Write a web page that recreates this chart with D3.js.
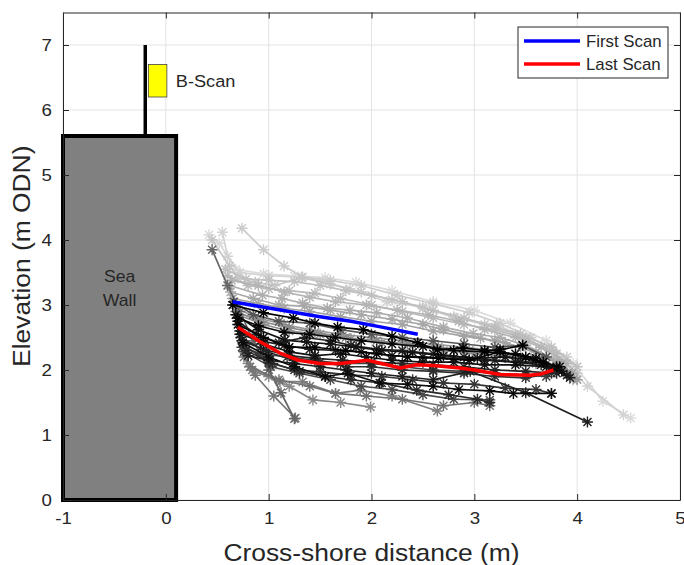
<!DOCTYPE html>
<html>
<head>
<meta charset="utf-8">
<script src="https://cdn.jsdelivr.net/npm/d3@7"></script>
<style>
  html, body { margin: 0; padding: 0; background: #fff; }
  svg { display: block; }
  text { font-family: "Liberation Sans", Arial, Helvetica, sans-serif; fill: #262626; }
</style>
</head>
<body>
<svg id="chart" width="684" height="565"></svg>
<script>
// ---------------- DATA ----------------
const xTicks = [-1, 0, 1, 2, 3, 4, 5];
const yTicks = [0, 1, 2, 3, 4, 5, 6, 7];
const xLabel = "Cross-shore distance (m)";
const yLabel = "Elevation (m ODN)";
const legendLabels = ["First Scan", "Last Scan"];

// Sea wall extent and B-Scan instrument
const seaWall = { x0: -1, x1: 0.1, top: 5.6, label: ["Sea", "Wall"] };
const bScanPole = { x: -0.2, y0: 5.6, y1: 7.0 };
const bScanBox = { x0: -0.17, x1: 0.01, y0: 6.2, y1: 6.7, label: "B-Scan" };

// Intermediate scans (x, elevation), ordered light (early) to dark (late)
const scans = [
  [[0.42,4.08],[0.52,3.95],[0.68,3.55],[0.95,3.48],[1.25,3.45],[1.55,3.42],[1.85,3.35],[2.2,3.22],[2.6,3.05],[3.0,2.92],[3.35,2.72],[3.7,2.45],[3.96,2.1],[4.25,1.52],[4.52,1.26]],
  [[0.55,4.12],[0.6,3.75],[0.72,3.5],[1.0,3.45],[1.32,3.43],[1.53,3.36],[1.79,3.25],[2.15,3.05],[2.5,2.98],[2.81,2.8],[3.22,2.69],[3.5,2.5],[3.85,2.15],[4.1,1.75],[4.45,1.31]],
  [[0.74,4.18],[0.95,3.85],[1.15,3.6],[1.33,3.43],[1.6,3.38],[1.9,3.3],[2.25,3.15],[2.6,3.02],[2.95,2.88],[3.25,2.72],[3.55,2.5],[3.9,2.2]],
  [[0.45,4.0],[0.62,3.6],[0.7,3.42],[0.87,3.35],[1.06,3.3],[1.32,3.42],[1.6,3.32],[1.9,3.2],[2.2,3.08],[2.5,2.95],[2.8,2.82],[3.1,2.7],[3.4,2.55],[3.75,2.3],[4.0,1.95]],
  [[0.58,3.55],[0.78,3.4],[1.0,3.38],[1.25,3.36],[1.5,3.3],[1.75,3.22],[2.0,3.15],[2.3,3.05],[2.6,2.92],[2.9,2.8],[3.2,2.66],[3.45,2.55],[3.75,2.35],[4.0,2.05]],
  [[0.6,3.45],[0.8,3.3],[1.0,3.25],[1.2,3.22],[1.45,3.18],[1.7,3.1],[2.0,3.0],[2.3,2.9],[2.6,2.8],[2.9,2.7],[3.2,2.62],[3.5,2.48],[3.8,2.25]],
  [[0.64,3.38],[0.9,3.3],[1.15,3.2],[1.4,3.12],[1.65,3.05],[1.95,3.0],[2.25,2.92],[2.55,2.85],[2.85,2.75],[3.1,2.62],[3.4,2.5],[3.65,2.35],[3.9,2.1]],
  [[0.62,3.3],[0.94,3.15],[1.13,3.1],[1.33,3.03],[1.57,2.95],[1.79,2.92],[2.05,2.88],[2.35,2.8],[2.7,2.66],[2.99,2.56],[3.25,2.5],[3.5,2.38],[3.8,2.15],[3.96,1.85]],
  [[0.63,3.2],[0.85,3.1],[1.1,3.0],[1.35,2.98],[1.6,2.92],[1.9,2.85],[2.2,2.78],[2.5,2.7],[2.7,2.62],[3.06,2.49],[3.3,2.42],[3.6,2.28],[3.85,2.1]],
  [[0.65,3.1],[0.9,3.02],[1.15,2.95],[1.4,2.9],[1.7,2.82],[2.0,2.75],[2.3,2.7],[2.6,2.6],[2.9,2.52],[3.2,2.45],[3.45,2.35],[3.7,2.2],[3.95,1.95]],
  [[0.68,2.95],[0.9,2.8],[1.15,2.7],[1.4,2.62],[1.7,2.55],[2.0,2.5],[2.3,2.45],[2.6,2.4],[2.9,2.35],[3.2,2.3],[3.5,2.2],[3.8,2.05],[4.0,1.85]],
  [[0.7,2.85],[0.95,2.7],[1.2,2.6],[1.5,2.55],[1.8,2.48],[2.1,2.42],[2.4,2.38],[2.7,2.3],[3.0,2.25],[3.3,2.2],[3.6,2.1],[3.9,1.95]],
  [[0.68,2.9],[0.92,2.75],[1.2,2.65],[1.45,2.58],[1.75,2.5],[2.05,2.45],[2.35,2.4],[2.65,2.35],[2.95,2.3],[3.25,2.25],[3.55,2.18],[3.85,2.0]],
  [[0.8,2.1],[1.0,1.9],[1.2,1.75],[1.43,1.54],[1.7,1.5],[1.99,1.43]],
  [[0.84,2.0],[1.11,1.82],[1.33,1.82],[1.65,1.64],[1.89,1.69],[2.2,1.6],[2.64,1.37]],
  [[0.82,2.05],[1.1,1.85],[1.4,1.75],[1.65,1.64],[1.95,1.6],[2.3,1.55],[2.7,1.45],[3.0,1.5],[3.15,1.45]],
  [[0.76,2.2],[0.87,1.92],[1.05,1.6],[1.26,1.26]],
  [[0.45,3.85],[0.6,3.3],[0.72,2.9],[0.85,2.45],[1.0,2.0],[1.12,1.65],[1.25,1.25]],
  [[0.66,3.05],[0.85,2.85],[1.1,2.75],[1.4,2.72],[1.7,2.62],[2.0,2.55],[2.3,2.5],[2.6,2.45],[2.9,2.4],[3.2,2.35],[3.47,2.38],[3.7,2.2]],
  [[0.76,2.28],[1.02,2.05],[1.3,1.95],[1.6,1.85],[1.9,1.75],[2.2,1.7],[2.5,1.62],[2.8,1.55],[3.15,1.54]],
  [[0.74,2.35],[0.92,2.25],[1.18,2.2],[1.45,2.15],[1.7,2.1],[2.0,2.1],[2.3,2.05],[2.6,2.0],[2.9,1.98],[3.2,1.95],[3.5,1.92],[3.7,1.9]],
  [[0.76,2.38],[1.0,2.12],[1.25,2.0],[1.5,1.97],[1.8,1.92],[2.1,1.9],[2.4,1.85],[2.7,1.8],[3.0,1.78],[3.3,1.72],[3.6,1.7],[3.75,1.64]],
  [[0.73,2.5],[0.98,2.28],[1.25,2.15],[1.5,2.12],[1.77,2.05],[2.0,2.05],[2.3,2.0],[2.6,1.98],[2.9,1.95],[3.2,1.9],[3.5,1.88],[3.75,1.95]],
  [[0.78,2.3],[1.04,2.1],[1.3,1.98],[1.55,1.9],[1.8,1.85],[2.1,1.8],[2.44,1.69],[2.75,1.62],[3.03,1.55],[3.15,1.5]],
  [[0.74,2.45],[0.95,2.32],[1.2,2.22],[1.45,2.18],[1.72,2.15],[2.0,2.12],[2.3,2.1],[2.6,2.08],[2.9,2.05],[3.2,2.0],[3.5,1.98],[3.8,1.95]],
  [[0.7,2.75],[0.88,2.55],[1.1,2.42],[1.35,2.5],[1.6,2.45],[1.8,2.38],[2.05,2.32],[2.3,2.3],[2.6,2.25],[2.9,2.2],[3.2,2.15],[3.45,2.12],[3.67,2.12],[3.93,1.88]],
  [[0.8,2.22],[1.0,2.15],[1.25,2.1],[1.5,2.05],[1.75,2.0],[2.0,1.95],[2.3,1.9],[2.6,1.85],[2.96,1.98],[3.5,1.65],[4.1,1.2]],
  [[0.72,2.55],[0.92,2.45],[1.15,2.38],[1.4,2.32],[1.65,2.3],[1.9,2.28],[2.2,2.22],[2.5,2.2],[2.8,2.18],[3.1,2.15],[3.4,2.12],[3.65,2.08],[3.9,1.92]],
  [[0.68,2.85],[0.9,2.62],[1.16,2.46],[1.37,2.43],[1.6,2.4],[1.85,2.35],[2.1,2.3],[2.4,2.27],[2.7,2.22],[3.03,2.18],[3.3,2.2],[3.6,2.15],[3.83,2.05]],
  [[0.72,2.6],[0.95,2.4],[1.2,2.28],[1.45,2.22],[1.7,2.25],[1.95,2.2],[2.2,2.15],[2.5,2.12],[2.8,2.12],[3.1,2.08],[3.4,2.08],[3.7,2.05],[3.85,1.98]],
  [[0.75,2.42],[1.0,2.2],[1.25,2.05],[1.55,1.9],[1.77,1.95],[2.08,1.8],[2.35,1.78],[2.6,1.75],[2.85,1.7],[3.15,1.68],[3.38,1.64],[3.75,1.64]],
  [[0.7,2.8],[0.9,2.68],[1.15,2.58],[1.4,2.55],[1.65,2.5],[1.9,2.45],[2.2,2.4],[2.5,2.36],[2.8,2.3],[3.1,2.28],[3.4,2.25],[3.6,2.18]],
  [[0.7,2.7],[0.95,2.5],[1.2,2.35],[1.45,2.35],[1.75,2.3],[2.05,2.25],[2.35,2.2],[2.65,2.18],[2.95,2.15],[3.25,2.28],[3.5,2.2],[3.67,2.12],[3.8,2.05]],
  [[0.65,3.0],[0.95,2.88],[1.24,2.8],[1.45,2.72],[1.67,2.66],[1.92,2.62],[2.2,2.52],[2.45,2.42],[2.64,2.31],[2.89,2.34],[3.1,2.3],[3.25,2.31],[3.47,2.38]]
];

const firstScan = [[0.65,3.05],[0.9,2.98],[1.2,2.9],[1.5,2.82],[1.8,2.75],[2.1,2.66],[2.45,2.55]];
const lastScan = [[0.7,2.66],[0.9,2.45],[1.11,2.26],[1.29,2.15],[1.5,2.1],[1.7,2.1],[1.96,2.15],[2.15,2.08],[2.28,2.03],[2.44,2.08],[2.6,2.07],[2.86,2.03],[3.0,2.0],[3.25,1.93],[3.54,1.92],[3.65,1.94],[3.77,2.0]];

// ---------------- STYLE ----------------
const scanColors = [
  "#dadada","#d2d2d2","#cccccc","#c6c6c6","#c0c0c0","#bababa","#b4b4b4","#aeaeae","#a8a8a8","#a2a2a2",
  "#999999","#8e8e8e","#888888","#8a8a8a","#7e7e7e","#727272","#777777","#666666","#555555","#4a4a4a",
  "#3e3e3e","#363636","#303030","#2a2a2a","#242424","#222222","#1e1e1e","#1a1a1a","#151515","#111111",
  "#0c0c0c","#080808","#040404","#000000"];
const STRETCH = "scale(1.1,1)";

// ---------------- DRAW ----------------
const svg = d3.select("#chart");
const frame = { left: 63, top: 12.5, right: 680, bottom: 500 };
const x = d3.scaleLinear().domain([-1, 5]).range([frame.left, frame.right]);
const y = d3.scaleLinear().domain([0, 7.5]).range([frame.bottom, frame.top]);

// grid
const grid = svg.append("g");
grid.selectAll("line.gx").data(xTicks).join("line")
  .attr("x1", d => x(d)).attr("x2", d => x(d))
  .attr("y1", y(0)).attr("y2", y(7.5))
  .attr("stroke", "#e3e3e3").attr("stroke-width", 1);
grid.selectAll("line.gy").data(yTicks).join("line")
  .attr("y1", d => y(d)).attr("y2", d => y(d))
  .attr("x1", x(-1)).attr("x2", x(5))
  .attr("stroke", "#e3e3e3").attr("stroke-width", 1);

// scans
const line = d3.line().x(d => x(d[0])).y(d => y(d[1]));
const star = "M-5.5,0H5.5M0,-5.5V5.5M-4,-4L4,4M-4,4L4,-4";
const scanG = svg.append("g");
scans.forEach((s, i) => {
  const c = scanColors[i];
  const g = scanG.append("g");
  g.append("path").attr("d", line(s)).attr("fill", "none")
    .attr("stroke", c).attr("stroke-width", 1.7).attr("stroke-linejoin", "round");
  g.selectAll("path.m").data(s).join("path")
    .attr("d", star)
    .attr("transform", d => `translate(${x(d[0])},${y(d[1])})`)
    .attr("fill", "none").attr("stroke", c).attr("stroke-width", 1.4);
});

// first and last
svg.append("path").attr("d", line(firstScan)).attr("fill", "none")
  .attr("stroke", "#0000ff").attr("stroke-width", 3.5);
svg.append("path").attr("d", line(lastScan)).attr("fill", "none")
  .attr("stroke", "#ff0000").attr("stroke-width", 3.5).attr("stroke-linejoin", "round");

// sea wall
svg.append("rect")
  .attr("x", x(seaWall.x0)).attr("y", y(seaWall.top))
  .attr("width", x(seaWall.x1) - x(seaWall.x0))
  .attr("height", y(0) - y(seaWall.top))
  .attr("fill", "#808080").attr("stroke", "#000").attr("stroke-width", 4);
const swX = (x(seaWall.x0) + x(seaWall.x1)) / 2;
seaWall.label.forEach((t, i) => {
  svg.append("text").attr("transform", `translate(${swX},${282 + i * 24}) ${STRETCH}`)
    .attr("text-anchor", "middle").attr("font-size", 16).attr("fill", "#111").text(t);
});

// B-scan pole and box
svg.append("line")
  .attr("x1", x(bScanPole.x)).attr("x2", x(bScanPole.x))
  .attr("y1", y(bScanPole.y0)).attr("y2", y(bScanPole.y1))
  .attr("stroke", "#000").attr("stroke-width", 3.5);
svg.append("rect")
  .attr("x", x(bScanBox.x0)).attr("y", y(bScanBox.y1))
  .attr("width", x(bScanBox.x1) - x(bScanBox.x0))
  .attr("height", y(bScanBox.y0) - y(bScanBox.y1))
  .attr("fill", "#ffff00").attr("stroke", "#444").attr("stroke-width", 0.8);
svg.append("text")
  .attr("transform", `translate(${x(bScanBox.x1) + 9},${y((bScanBox.y0 + bScanBox.y1) / 2) + 6}) ${STRETCH}`)
  .attr("font-size", 16.5).attr("fill", "#111").text(bScanBox.label);

// axes (box with inward ticks on all sides)
const fmt = d => String(d);
const axB = svg.append("g").attr("transform", `translate(0,${y(0)})`)
  .call(d3.axisBottom(x).tickValues(xTicks).tickFormat(fmt).tickSizeInner(-6).tickSizeOuter(0).tickPadding(12));
const axT = svg.append("g").attr("transform", `translate(0,${y(7.5)})`)
  .call(d3.axisTop(x).tickValues(xTicks).tickSizeInner(-6).tickSizeOuter(0).tickFormat(""));
const axL = svg.append("g").attr("transform", `translate(${x(-1)},0)`)
  .call(d3.axisLeft(y).tickValues(yTicks).tickFormat(fmt).tickSizeInner(-6).tickSizeOuter(0).tickPadding(10));
const axR = svg.append("g").attr("transform", `translate(${x(5)},0)`)
  .call(d3.axisRight(y).tickValues(yTicks).tickSizeInner(-6).tickSizeOuter(0).tickFormat(""));
[axB, axT, axL, axR].forEach(a => {
  a.select(".domain").attr("stroke", "#262626").attr("stroke-width", 1);
  a.selectAll(".tick line").attr("stroke", "#262626");
  a.selectAll(".tick text").attr("font-size", 17).attr("fill", "#262626")
    .attr("font-family", "Liberation Sans, Arial, sans-serif");
});
axB.selectAll(".tick text").attr("transform", STRETCH);
axL.selectAll(".tick text").attr("transform", STRETCH);

// axis labels
svg.append("text")
  .attr("transform", `translate(${(x(-1) + x(5)) / 2},561) ${STRETCH}`)
  .attr("text-anchor", "middle").attr("font-size", 24).text(xLabel);
svg.append("text")
  .attr("transform", `translate(30,${(y(0) + y(7.5)) / 2}) rotate(-90) ${STRETCH}`)
  .attr("text-anchor", "middle").attr("font-size", 24).text(yLabel);

// legend
const lg = svg.append("g");
lg.append("rect").attr("x", 518).attr("y", 27).attr("width", 150).attr("height", 51)
  .attr("fill", "#fff").attr("stroke", "#262626").attr("stroke-width", 1);
const legendColors = ["#0000ff", "#ff0000"];
legendLabels.forEach((t, i) => {
  const ly = 41 + i * 23;
  lg.append("line").attr("x1", 524).attr("x2", 580).attr("y1", ly).attr("y2", ly)
    .attr("stroke", legendColors[i]).attr("stroke-width", 3.5);
  lg.append("text").attr("transform", `translate(586,${ly + 6}) scale(1.05,1)`)
    .attr("font-size", 16).attr("fill", "#111").text(t);
});
</script>
</body>
</html>
